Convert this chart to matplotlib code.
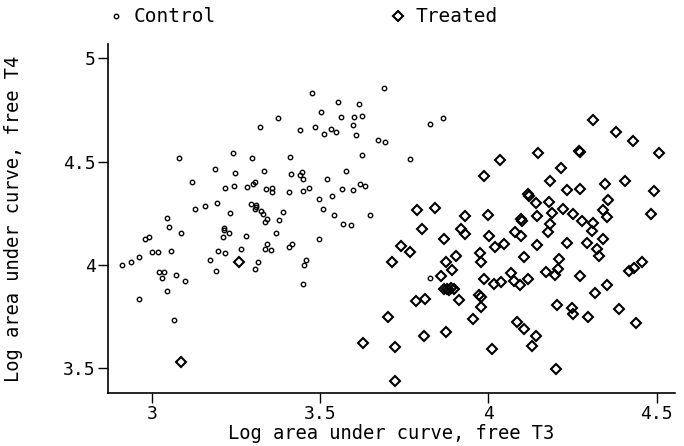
import matplotlib
matplotlib.use('Agg')
import matplotlib.pyplot as plt

# Control group: log AUC free T3 (x) and free T4 (y)
control_t3 = [3.475, 3.554, 3.616, 3.504, 3.562, 3.600, 3.624, 3.376, 3.320, 3.440,
              3.485, 3.533, 3.547, 3.512, 3.599, 3.606, 3.672, 3.080, 3.240, 3.298,
              3.411, 3.624, 3.187, 3.248, 3.333, 3.414, 3.440, 3.447, 3.450, 3.577,
              3.521, 3.118, 3.218, 3.243, 3.282, 3.301, 3.306, 3.339, 3.356, 3.357,
              3.407, 3.448, 3.466, 3.564, 3.597, 3.618, 3.634, 3.496, 3.534, 3.128,
              3.159, 3.194, 3.232, 3.296, 3.310, 3.306, 3.309, 3.325, 3.330, 3.336,
              3.343, 3.390, 3.378, 3.508, 3.540, 3.568, 3.593, 3.647, 3.046, 3.051,
              3.086, 3.215, 3.214, 3.229, 3.369, 2.981, 2.992, 3.211, 3.279, 3.496,
              2.910, 2.938, 2.962, 3.000, 3.017, 3.057, 3.020, 3.036, 3.031, 3.073,
              3.100, 3.046, 2.963, 3.067, 3.172, 3.197, 3.217, 3.191, 3.265, 3.307,
              3.316, 3.336, 3.343, 3.353, 3.409, 3.416, 3.451, 3.459, 3.449, 3.691,
              3.693, 3.826, 3.865, 3.766, 3.827]
control_t4 = [4.834, 4.787, 4.780, 4.740, 4.715, 4.715, 4.722, 4.713, 4.666, 4.655,
              4.668, 4.657, 4.643, 4.632, 4.677, 4.630, 4.603, 4.518, 4.542, 4.519,
              4.524, 4.531, 4.464, 4.445, 4.453, 4.442, 4.435, 4.451, 4.416, 4.455,
              4.418, 4.403, 4.371, 4.382, 4.377, 4.392, 4.402, 4.366, 4.374, 4.355,
              4.355, 4.357, 4.374, 4.366, 4.363, 4.393, 4.384, 4.321, 4.335, 4.272,
              4.287, 4.300, 4.253, 4.295, 4.289, 4.271, 4.281, 4.260, 4.245, 4.209,
              4.223, 4.255, 4.216, 4.269, 4.242, 4.198, 4.192, 4.242, 4.229, 4.182,
              4.153, 4.178, 4.169, 4.156, 4.156, 4.127, 4.137, 4.137, 4.139, 4.127,
              4.000, 4.013, 4.040, 4.061, 4.061, 4.069, 3.966, 3.965, 3.939, 3.950,
              3.923, 3.873, 3.836, 3.734, 4.024, 4.068, 4.060, 3.971, 4.076, 3.979,
              4.015, 4.079, 4.100, 4.073, 4.087, 4.102, 3.999, 4.024, 3.907, 4.856,
              4.597, 4.682, 4.711, 4.513, 3.939]

# Treated group
treated_t3 = [4.310, 4.378, 4.429, 4.508, 4.149, 4.268, 4.272, 4.034, 4.217, 3.986,
              4.182, 4.235, 4.272, 4.347, 4.407, 4.491, 4.118, 4.121, 4.141, 4.179,
              4.356, 3.789, 3.842, 3.931, 4.000, 4.097, 4.099, 4.145, 4.189, 4.221,
              4.253, 4.279, 4.310, 4.340, 4.352, 4.484, 3.804, 3.918, 3.930, 4.001,
              4.080, 4.098, 4.183, 4.177, 4.309, 4.340, 3.867, 3.740, 3.767, 3.714,
              3.903, 3.875, 3.893, 3.858, 3.867, 3.877, 3.890, 3.898, 3.884, 3.912,
              3.784, 3.812, 3.701, 3.628, 3.724, 3.809, 3.873, 3.723, 3.955, 3.978,
              3.972, 3.979, 3.976, 3.979, 3.987, 4.017, 4.037, 4.021, 4.047, 4.068,
              4.077, 4.094, 4.117, 4.105, 4.085, 4.106, 4.142, 4.131, 4.011, 4.144,
              4.170, 4.198, 4.208, 4.210, 4.234, 4.293, 4.323, 4.328, 4.272, 4.204,
              4.248, 4.251, 4.295, 4.201, 4.318, 4.354, 4.387, 4.438, 4.417, 4.434,
              4.456, 3.260, 3.087]
treated_t4 = [4.701, 4.642, 4.600, 4.543, 4.543, 4.552, 4.547, 4.509, 4.469, 4.429,
              4.405, 4.363, 4.369, 4.390, 4.408, 4.358, 4.343, 4.336, 4.298, 4.306,
              4.314, 4.266, 4.277, 4.237, 4.243, 4.223, 4.215, 4.237, 4.250, 4.272,
              4.247, 4.213, 4.202, 4.266, 4.231, 4.248, 4.176, 4.173, 4.151, 4.142,
              4.158, 4.142, 4.197, 4.160, 4.166, 4.127, 4.124, 4.093, 4.063, 4.015,
              4.045, 4.013, 3.976, 3.947, 3.885, 3.882, 3.887, 3.882, 3.877, 3.831,
              3.827, 3.834, 3.748, 3.621, 3.602, 3.655, 3.676, 3.439, 3.739, 3.795,
              3.856, 3.844, 4.057, 4.015, 3.934, 3.910, 3.918, 4.089, 4.100, 3.963,
              3.921, 3.902, 3.934, 4.037, 3.726, 3.692, 3.657, 3.608, 3.595, 4.097,
              3.966, 3.950, 3.982, 4.029, 4.105, 4.105, 4.079, 4.044, 3.947, 3.806,
              3.793, 3.764, 3.750, 3.497, 3.866, 3.902, 3.786, 3.721, 3.970, 3.984,
              4.016, 4.013, 3.532]

x_ticks = [3, 3.5, 4, 4.5]
x_tick_labels = ['3', '3.5', '4', '4.5']
y_ticks = [3.5, 4, 4.5, 5]
y_tick_labels = ['3.5', '4', '4.5', '5']

plt.rcParams['font.family'] = ['DejaVu Sans Mono']

fig = plt.figure(figsize=(6.84, 4.46), dpi=100)
ax = fig.add_axes([0.158, 0.119, 0.829, 0.782])

ax.plot(control_t3, control_t4, linestyle='none', marker='o', markersize=3.2,
        markerfacecolor='none', markeredgecolor='black', markeredgewidth=1.0,
        label='Control')
ax.plot(treated_t3, treated_t4, linestyle='none', marker='D', markersize=5.6,
        markerfacecolor='none', markeredgecolor='black', markeredgewidth=1.5,
        label='Treated')

ax.set_xlim(2.87, 4.555)
ax.set_ylim(3.381, 5.069)
ax.set_xticks(x_ticks)
ax.set_xticklabels(x_tick_labels)
ax.set_yticks(y_ticks)
ax.set_yticklabels(y_tick_labels)
ax.tick_params(direction='out', length=7, width=1, labelsize=13, pad=2)

for side in ['top', 'right']:
    ax.spines[side].set_visible(False)
for side in ['left', 'bottom']:
    ax.spines[side].set_linewidth(1.2)

ax.set_xlabel('Log area under curve, free T3', fontsize=13.5)
ax.set_ylabel('Log area under curve, free T4', fontsize=13.5)
ax.xaxis.set_label_coords(0.5, -0.088)
ax.yaxis.set_label_coords(-0.15, 0.5)

fig.legend(loc='center left', bbox_to_anchor=(0.158, 0.962), ncol=2,
           frameon=False, fontsize=14, handlelength=0.8, handletextpad=0.5,
           columnspacing=9.0, borderpad=0, borderaxespad=0)

fig.savefig('out.png', dpi=100)
